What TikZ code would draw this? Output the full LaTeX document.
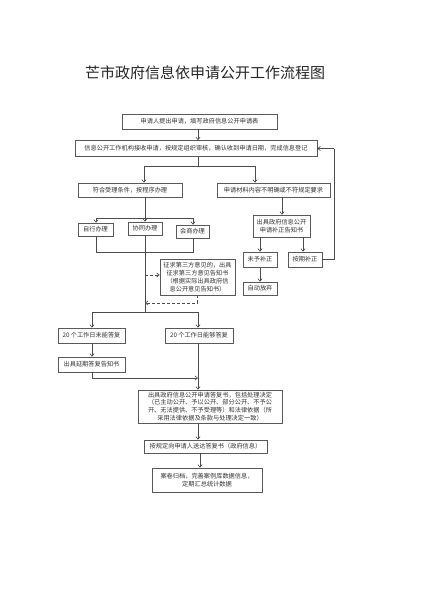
\documentclass[tikz,border=0pt]{standalone}
\usepackage{fontspec}
\newfontfamily\cjk{Noto Sans CJK SC}
\usetikzlibrary{arrows.meta}
\begin{document}
\begin{tikzpicture}[x=1pt,y=-1pt,
  box/.style={draw=black!65, line width=0.6pt, fill=white, inner sep=0pt, align=center,
    text=black!80, font=\cjk\fontsize{6.2}{7.8}\selectfont},
  ln/.style={draw=black!70, line width=0.6pt},
  arr/.style={ln, -{Straight Barb[length=2.6pt,width=4.2pt]}},
  darr/.style={arr, dashed, dash pattern=on 3pt off 2pt}]
\useasboundingbox (0,0) rectangle (424,600);
\fill[white] (0,0) rectangle (424,600);
\node[font=\cjk\fontsize{15}{18}\selectfont, text=black!85] (title) at (205,73) {芒市政府信息依申请公开工作流程图};

\node[box, minimum width=155pt, minimum height=15pt] (b1) at (199.5,121.5) {申请人提出申请，填写政府信息公开申请表};
\node[box, minimum width=242pt, minimum height=16pt] (b2) at (196,148.5) {信息公开工作机构接收申请，按规定组织审核，确认收到申请日期，完成信息登记};
\node[box, minimum width=104pt, minimum height=14pt] (b3) at (130,190) {符合受理条件，按程序办理};
\node[box, minimum width=113pt, minimum height=14pt] (b4) at (273.5,190) {申请材料内容不明确或不符规定要求};
\node[box, minimum width=35pt, minimum height=13pt] (s1) at (95.5,229.5) {自行办理};
\node[box, minimum width=34pt, minimum height=13pt] (s2) at (145,228.5) {协同办理};
\node[box, minimum width=33pt, minimum height=13pt] (s3) at (192.5,231.5) {会商办理};
\node[box, minimum width=75pt, minimum height=36pt] (info) at (197.5,277) {征求第三方意见的，出具\\征求第三方意见告知书\\（根据实际出具政府信\\息公开意见告知书）};
\node[box, minimum width=57pt, minimum height=22pt] (b5) at (281.5,226) {出具政府信息公开\\申请补正告知书};
\node[box, minimum width=34pt, minimum height=15pt] (b6) at (260,259.5) {未予补正};
\node[box, minimum width=34pt, minimum height=15pt] (b7) at (305,259.5) {按期补正};
\node[box, minimum width=34pt, minimum height=13pt] (b8) at (260,288.5) {自动放弃};
\node[box, minimum width=67pt, minimum height=15pt] (b9) at (91.5,335.5) {20 个工作日未能答复};
\node[box, minimum width=68pt, minimum height=15pt] (b10) at (199,335.5) {20 个工作日能够答复};
\node[box, minimum width=67pt, minimum height=15pt] (b11) at (91.5,364.5) {出具延期答复告知书};
\node[box, minimum width=144pt, minimum height=33pt] (b12) at (210,406.5) {出具政府信息公开申请答复书，包括处理决定\\（已主动公开、予以公开、部分公开、不予公\\开、无法提供、不予受理等）和法律依据（所\\采用法律依据及条款与处理决定一致）};
\node[box, minimum width=123pt, minimum height=13pt] (b13) at (205.5,446.5) {按规定向申请人送达答复书（政府信息）};
\node[box, minimum width=110pt, minimum height=24pt] (b14) at (207,480) {案卷归档，完善案例库数据信息，\\定期汇总统计数据};

% coordinates
\coordinate (c1) at (198,166);
\coordinate (c1l) at (144,166);
\coordinate (c1r) at (255,166);
\coordinate (c2) at (145,218);
\coordinate (c2l) at (96,218);
\coordinate (c2r) at (193,218);
\coordinate (j1) at (96,252);
\coordinate (j2) at (193,252);
\coordinate (j0) at (145,252);
\coordinate (d1) at (145,275);
\coordinate (d2) at (197,303);
\coordinate (d3) at (145,303);
\coordinate (c3) at (145,312);
\coordinate (c3l) at (92,312);
\coordinate (c3r) at (198,312);
\coordinate (e1) at (92,378);
\coordinate (e2) at (198,378);
\coordinate (r1) at (334,259.5);
\coordinate (r2) at (334,148.5);

\draw[arr] (b1.south -| 198,0) -- (b2.north -| 198,0);
\draw[ln] (b2.south -| c1) -- (c1);
\draw[ln] (c1l) -- (c1r);
\draw[arr] (c1l) -- (b3.north -| c1l);
\draw[arr] (c1r) -- (b4.north -| c1r);
\draw[ln] (b3.south -| c2) -- (c2);
\draw[ln] (c2l) -- (c2r);
\draw[arr] (c2l) -- (s1.north -| c2l);
\draw[arr] (c2) -- (s2.north -| c2);
\draw[arr] (c2r) -- (s3.north -| c2r);
\draw[ln] (s1.south -| j1) -- (j1) -- (j2) -- (s3.south -| j2);
\draw[ln] (s2.south) -- (c3);
\draw[darr] (d1) -- (info.west |- d1);
\draw[darr] (info.south -| d2) -- (d2) -- (d3);
\draw[ln] (c3l) -- (c3r);
\draw[arr] (c3l) -- (b9.north -| c3l);
\draw[arr] (c3r) -- (b10.north -| c3r);
\draw[arr] (b9.south -| c3l) -- (b11.north -| c3l);
\draw[ln] (b11.south -| e1) -- (e1);
\draw[arr] (e1) -- (e2);
\draw[arr] (b10.south -| c3r) -- (b12.north -| c3r);
\draw[arr] (b12.south -| 198,0) -- (b13.north -| 198,0);
\draw[arr] (b13.south -| 200,0) -- (b14.north -| 200,0);
\draw[arr] (b4.south -| 282,0) -- (b5.north -| 282,0);
\draw[arr] (b5.south -| b6) -- (b6.north);
\draw[arr] (b5.south -| 303,0) -- (b7.north -| 303,0);
\draw[arr] (b6) -- (b8);
\draw[ln] (b7.east) -- (r1) -- (r2);
\draw[arr] (r2) -- (b2.east);
\end{tikzpicture}
\end{document}
